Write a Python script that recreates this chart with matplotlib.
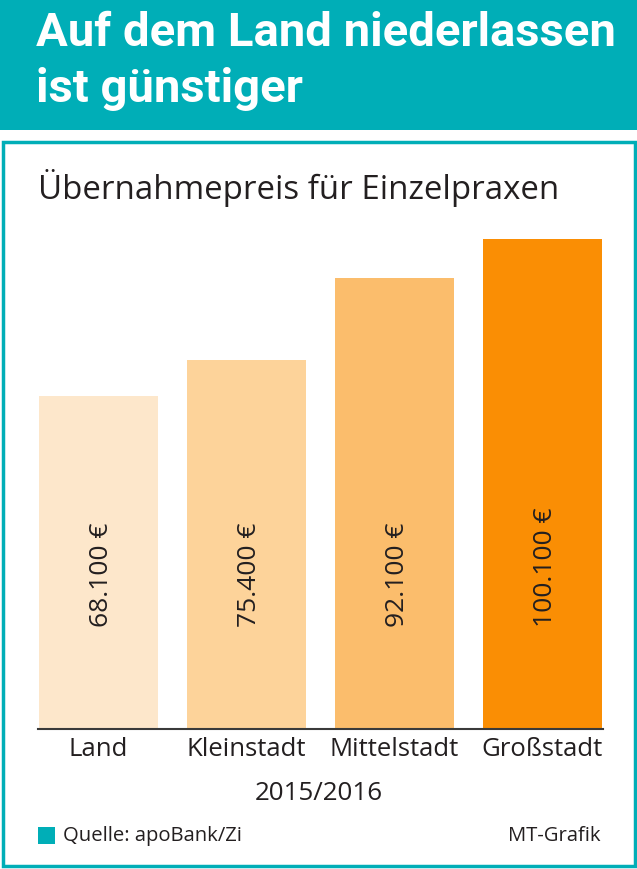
import matplotlib
matplotlib.use("Agg")
import matplotlib.pyplot as plt
from matplotlib.patches import Rectangle

# data
categories = ["Land", "Kleinstadt", "Mittelstadt", "Großstadt"]
prices = [68100, 75400, 92100, 100100]
value_labels = ["68.100 €", "75.400 €", "92.100 €", "100.100 €"]
bar_colors = ["#FDE7CB", "#FDD39A", "#FBBD6C", "#FA8E04"]

TEAL = "#00AEB7"
DARK = "#231F20"
W, H = 637, 869

fig = plt.figure(figsize=(W / 100, H / 100), dpi=100)

# background canvas in pixel coords
bg = fig.add_axes([0, 0, 1, 1])
bg.set_xlim(0, W)
bg.set_ylim(H, 0)
bg.axis("off")
bg.add_patch(Rectangle((0, 0), W, 130, color=TEAL, lw=0))
bg.add_patch(Rectangle((2.5, 142), W - 5, H - 145, fill=False, ec=TEAL, lw=2.5))
bg.text(36, 33, "Auf dem Land niederlassen", color="white", fontsize=34,
        fontweight="bold", family="Roboto", va="center", ha="left")
bg.text(36, 89, "ist günstiger", color="white", fontsize=34,
        fontweight="bold", family="Roboto", va="center", ha="left")
bg.text(38, 188, "Übernahmepreis für Einzelpraxen", color=DARK, fontsize=23.8,
        family="Open Sans", va="center", ha="left")
bg.text(318.5, 793, "2015/2016", color=DARK, fontsize=18.7,
        family="Open Sans", va="center", ha="center")
bg.add_patch(Rectangle((38, 827), 17, 17, color=TEAL, lw=0))
bg.text(63, 836, "Quelle: apoBank/Zi", color=DARK, fontsize=14.6,
        family="Open Sans", va="center", ha="left")
bg.text(601, 836, "MT-Grafik", color=DARK, fontsize=14.6,
        family="Open Sans", va="center", ha="right")

# bar chart axes: left 38px, right 603px, bottom 729px, top 239px
left, right, bottom, top = 38, 603, 729, 239
ax = fig.add_axes([left / W, (H - bottom) / H, (right - left) / W, (bottom - top) / H])
ax.patch.set_alpha(0)
x = range(len(categories))
ax.bar(x, prices, width=0.804, color=bar_colors)
ax.set_xlim(-0.409, 3.409)
ax.set_ylim(0, max(prices))
for i, lab in enumerate(value_labels):
    ax.text(i + 0.02, 20800, lab, rotation=90, ha="center", va="bottom",
            fontsize=19, family="Open Sans", color=DARK)
for s in ["top", "right", "left"]:
    ax.spines[s].set_visible(False)
ax.spines["bottom"].set_color("#3a3a3a")
ax.spines["bottom"].set_linewidth(1.5)
ax.set_yticks([])
ax.set_xticks(list(x))
ax.set_xticklabels(categories, fontsize=18.5, family="Open Sans", color=DARK)
ax.tick_params(axis="x", length=0, pad=6)

fig.savefig("out.png", dpi=100)
